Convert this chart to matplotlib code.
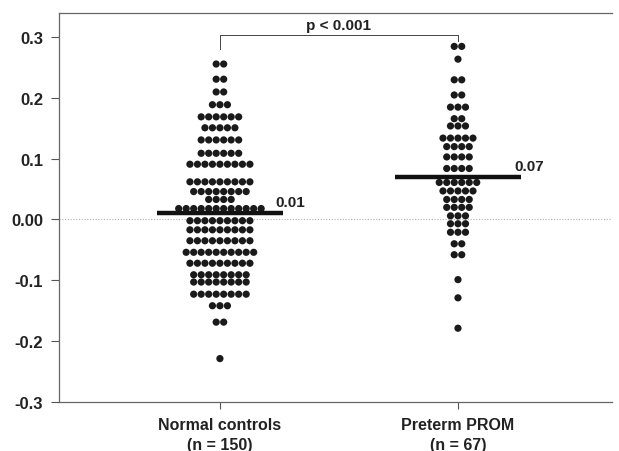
#!/usr/bin/env python3
"""Dot plot: normal controls vs preterm PROM, with group means and p-value bracket."""
import matplotlib
matplotlib.use('Agg')
import matplotlib.pyplot as plt

GROUPS = ['Normal controls\n(n = 150)', 'Preterm PROM\n(n = 67)']
MEANS = [0.01, 0.07]
MEAN_LABELS = ['0.01', '0.07']
P_TEXT = 'p < 0.001'
Y_TICKS = [-0.3, -0.2, -0.1, 0.0, 0.1, 0.2, 0.3]
Y_TICK_LABELS = ['-0.3', '-0.2', '-0.1', '0.00', '0.1', '0.2', '0.3']

# (value, number of dots in that row)
CONTROL_ROWS = [
    (0.256, 2), (0.231, 2), (0.210, 2), (0.189, 3), (0.169, 6), (0.151, 5),
    (0.131, 6), (0.109, 6), (0.091, 9), (0.062, 9), (0.046, 8), (0.033, 4),
    (0.018, 12), (-0.002, 9), (-0.017, 9), (-0.035, 9), (-0.054, 10),
    (-0.072, 9), (-0.091, 8), (-0.103, 8), (-0.123, 8), (-0.142, 3),
    (-0.169, 2), (-0.229, 1),
]
PROM_ROWS = [
    (0.285, 2), (0.264, 1), (0.230, 2), (0.205, 2), (0.185, 3), (0.166, 2),
    (0.154, 3), (0.134, 5), (0.120, 4), (0.103, 4), (0.084, 4), (0.061, 6),
    (0.047, 5), (0.033, 4), (0.020, 4), (0.006, 3), (-0.007, 3), (-0.021, 3),
    (-0.040, 2), (-0.058, 2), (-0.099, 1), (-0.129, 1), (-0.179, 1),
]

plt.rcParams['font.family'] = ['Liberation Sans', 'DejaVu Sans']

fig = plt.figure(figsize=(6.19, 4.52), dpi=100)
ax = fig.add_axes([59 / 619, 1 - 402.7 / 452, (612 - 59) / 619, (402.7 - 14) / 452])

DX = 0.0315  # horizontal spacing between neighbouring dots (category units)
for gi, rows in enumerate([CONTROL_ROWS, PROM_ROWS]):
    xs, ys = [], []
    for val, n in rows:
        for j in range(n):
            xs.append(gi + (j - (n - 1) / 2) * DX)
            ys.append(val)
    ax.scatter(xs, ys, s=27, color='#1a1a1a', edgecolors='none', zorder=3)

# zero reference line
ax.axhline(0, color='#b0b0b0', linestyle=(0, (1, 1.5)), linewidth=0.8, zorder=1)

# group means
for gi, (m, lab) in enumerate(zip(MEANS, MEAN_LABELS)):
    ax.plot([gi - 0.265, gi + 0.265], [m, m], color='#111111', linewidth=3.2,
            solid_capstyle='butt', zorder=4)
    ax.text(gi + 0.235, m + 0.007, lab, ha='left', va='bottom', fontsize=11,
            fontweight='bold', color='#222222')

# significance bracket
ax.plot([0, 0, 1, 1], [0.281, 0.304, 0.304, 0.294], color='#444444',
        linewidth=0.7, zorder=2)
ax.text(0.5, 0.308, P_TEXT, ha='center', va='bottom', fontsize=11,
        fontweight='bold', color='#222222')

ax.set_xlim(-0.676, 1.647)
ax.set_ylim(-0.3, 0.34)
ax.set_xticks([0, 1])
ax.set_xticklabels(GROUPS, fontsize=11.5, fontweight='bold', color='#222222',
                   linespacing=1.4)
ax.set_yticks(Y_TICKS)
ax.set_yticklabels(Y_TICK_LABELS, fontsize=12, fontweight='bold', color='#222222')
ax.tick_params(axis='y', length=5.8, width=0.8, color='#555555', pad=5.8)
ax.tick_params(axis='x', length=5, width=0.8, color='#555555', pad=6)
for sp in ax.spines.values():
    sp.set_color('#666666')
    sp.set_linewidth(0.9)
ax.spines['right'].set_visible(False)

fig.savefig('out.png', dpi=100)
